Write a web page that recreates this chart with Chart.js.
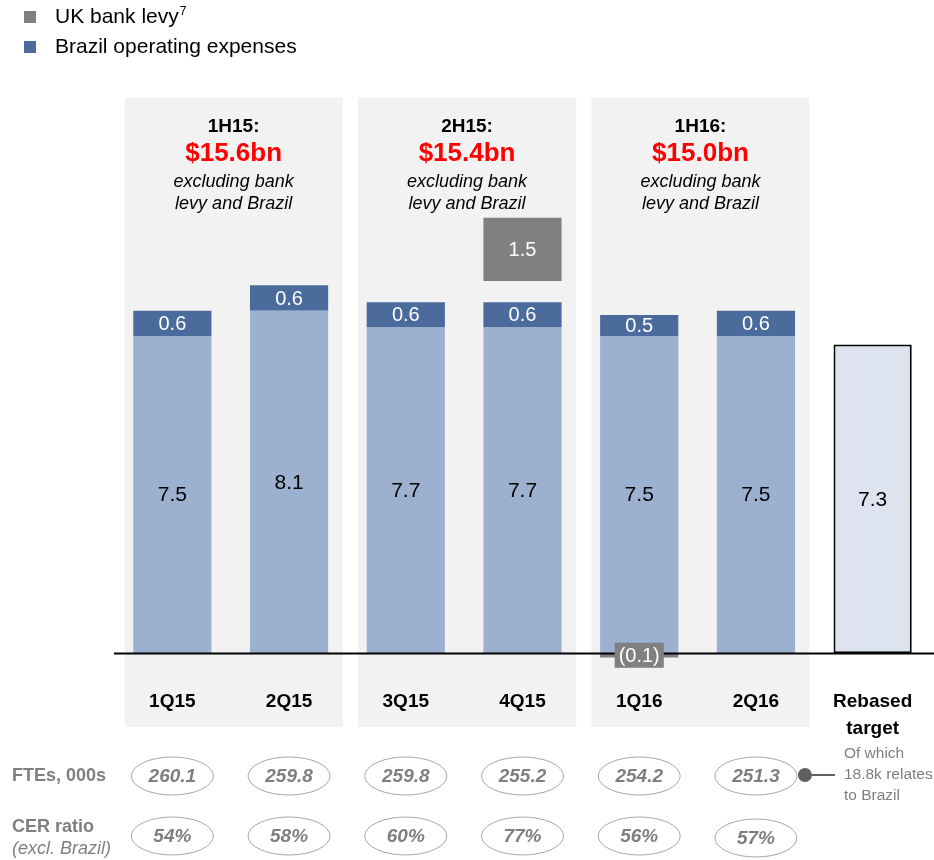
<!DOCTYPE html>
<html>
<head>
<meta charset="utf-8">
<script src="https://cdn.jsdelivr.net/npm/chart.js@4.4.1/dist/chart.umd.min.js"></script>
<style>
  html, body { margin: 0; padding: 0; background: #fff; }
  #wrap { width: 934px; height: 860px; }
</style>
</head>
<body>
<div id="wrap"><canvas id="opex" width="934" height="860"></canvas></div>
<script>
// Data ($bn)
var quarters = ['1Q15', '2Q15', '3Q15', '4Q15', '1Q16', '2Q16', ['Rebased', 'target']];
var opexExBrazil = [7.5, 8.1, 7.7, 7.7, 7.5, 7.5, null];
var brazilOpex = [0.6, 0.6, 0.6, 0.6, 0.5, 0.6, null];
var bankLevy = [null, null, null, 1.5, -0.1, null, null];
var rebasedTarget = [null, null, null, null, null, null, 7.3];
var halfYears = ['1H15:', '2H15:', '1H16:'];
var halfTotals = ['$15.6bn', '$15.4bn', '$15.0bn'];
var ftes = [260.1, 259.8, 259.8, 255.2, 254.2, 251.3];
var cerRatio = [54, 58, 60, 77, 56, 57];

var FONT = 'Liberation Sans, Arial, sans-serif';
var GREY = '#7f7f7f';
var levyGap = 0.5;

// floating bars so the levy block can sit above the stack
var baseBars = opexExBrazil.map(function(v) { return v == null ? null : [0, v]; });
var brazilBars = brazilOpex.map(function(v, i) { return v == null ? null : [opexExBrazil[i], opexExBrazil[i] + v]; });
var levyBars = bankLevy.map(function(v, i) {
    if (v == null) return null;
    if (v < 0) return [0, v];
    var top = opexExBrazil[i] + brazilOpex[i] + levyGap;
    return [top, top + v];
});
var targetBars = rebasedTarget.map(function(v) { return v == null ? null : [0, v]; });

var panelsPlugin = {
    id: 'panels',
    beforeDraw: function(chart) {
        var ctx = chart.ctx, x = chart.scales.x, area = chart.chartArea;
        var w = x.getPixelForValue(1) - x.getPixelForValue(0);
        ctx.save();
        for (var h = 0; h < halfYears.length; h++) {
            var l = x.getPixelForValue(h * 2) - 0.41 * w;
            var r = x.getPixelForValue(h * 2 + 1) + 0.46 * w;
            ctx.fillStyle = '#f2f2f2';
            ctx.fillRect(l, area.top - 6, r - l, area.bottom + 40 - (area.top - 6));
            var cx = (l + r) / 2;
            ctx.textAlign = 'center';
            ctx.textBaseline = 'middle';
            ctx.fillStyle = '#000';
            ctx.font = 'bold 19px ' + FONT;
            ctx.fillText(halfYears[h], cx, area.top + 23);
            ctx.fillStyle = '#ff0000';
            ctx.font = 'bold 26px ' + FONT;
            ctx.fillText(halfTotals[h], cx, area.top + 50);
            ctx.fillStyle = '#000';
            ctx.font = 'italic 18px ' + FONT;
            ctx.fillText('excluding bank', cx, area.top + 78);
            ctx.fillText('levy and Brazil', cx, area.top + 100);
        }
        ctx.restore();
    },
    afterDatasetsDraw: function(chart) {
        var ctx = chart.ctx, y = chart.scales.y, area = chart.chartArea;
        var y0 = Math.round(y.getPixelForValue(0)) + 0.5;
        ctx.save();
        ctx.strokeStyle = '#000';
        ctx.lineWidth = 2;
        ctx.beginPath();
        ctx.moveTo(area.left, y0);
        ctx.lineTo(chart.width, y0);
        ctx.stroke();

        // value labels
        ctx.textAlign = 'center';
        ctx.textBaseline = 'middle';
        chart.data.datasets.forEach(function(ds, di) {
            var meta = chart.getDatasetMeta(di);
            meta.data.forEach(function(bar, i) {
                var v = ds.values[i];
                if (v == null) return;
                var cy = (bar.y + bar.base) / 2;
                if (v < 0) {
                    var txt = '(' + Math.abs(v).toFixed(1) + ')';
                    ctx.font = '20px ' + FONT;
                    var tw = ctx.measureText(txt).width + 8;
                    ctx.fillStyle = ds.backgroundColor;
                    ctx.fillRect(bar.x - tw / 2, cy - 12.5, tw, 25);
                    ctx.fillStyle = '#fff';
                    ctx.fillText(txt, bar.x, cy + 1);
                    return;
                }
                ctx.fillStyle = ds.labelColor;
                ctx.font = ds.labelSize + 'px ' + FONT;
                ctx.fillText(v.toFixed(1), bar.x, cy + 1);
            });
        });
        ctx.restore();
    },
    afterDraw: function(chart) {
        var ctx = chart.ctx, x = chart.scales.x;
        var ds = chart.data.datasets;
        ctx.save();
        // legend
        ctx.textBaseline = 'middle';
        ctx.textAlign = 'left';
        ctx.fillStyle = ds[2].backgroundColor;
        ctx.fillRect(24, 11, 12, 12);
        ctx.fillStyle = ds[1].backgroundColor;
        ctx.fillRect(24, 41, 12, 12);
        ctx.fillStyle = '#000';
        ctx.font = '21px ' + FONT;
        ctx.fillText(ds[2].label, 55, 17);
        var lw = ctx.measureText(ds[2].label).width;
        ctx.font = '12px ' + FONT;
        ctx.fillText('7', 55 + lw + 1, 12);
        ctx.font = '21px ' + FONT;
        ctx.fillText(ds[1].label, 55, 47);

        // row headings
        ctx.fillStyle = GREY;
        ctx.font = 'bold 18px ' + FONT;
        ctx.fillText('FTEs, 000s', 12, 776);
        ctx.fillText('CER ratio', 12, 827);
        ctx.font = 'italic 18px ' + FONT;
        ctx.fillText('(excl. Brazil)', 12, 849);

        // ovals
        ctx.textAlign = 'center';
        ctx.font = 'italic bold 19px ' + FONT;
        ctx.strokeStyle = '#a6a6a6';
        ctx.lineWidth = 1;
        for (var i = 0; i < ftes.length; i++) {
            var cx = x.getPixelForValue(i);
            var rows = [[ftes[i].toFixed(1), 776], [cerRatio[i] + '%', i === 5 ? 838 : 836]];
            rows.forEach(function(r) {
                ctx.beginPath();
                ctx.ellipse(cx, r[1], 41, 19, 0, 0, Math.PI * 2);
                ctx.stroke();
                ctx.fillStyle = GREY;
                ctx.fillText(r[0], cx, r[1] + 1);
            });
        }

        // Brazil FTE note
        var nx = x.getPixelForValue(5) + 49;
        ctx.fillStyle = '#5f5f5f';
        ctx.strokeStyle = '#5f5f5f';
        ctx.lineWidth = 2;
        ctx.beginPath();
        ctx.arc(nx, 775, 7, 0, Math.PI * 2);
        ctx.fill();
        ctx.beginPath();
        ctx.moveTo(nx, 775);
        ctx.lineTo(nx + 30, 775);
        ctx.stroke();
        ctx.textAlign = 'left';
        ctx.fillStyle = GREY;
        ctx.font = '15.5px ' + FONT;
        ctx.fillText('Of which', nx + 39, 754);
        ctx.fillText('18.8k relates', nx + 39, 775);
        ctx.fillText('to Brazil', nx + 39, 796);
        ctx.restore();
    }
};

var ctx = document.getElementById('opex');
var opexChart = new Chart(ctx, {
    type: 'bar',
    data: {
        labels: quarters,
        datasets: [
            { label: 'Operating expenses excl. Brazil', data: baseBars, values: opexExBrazil,
              backgroundColor: '#9cb0cf', labelColor: '#000', labelSize: 21 },
            { label: 'Brazil operating expenses', data: brazilBars, values: brazilOpex,
              backgroundColor: '#4a6b9c', labelColor: '#fff', labelSize: 20 },
            { label: 'UK bank levy', data: levyBars, values: bankLevy,
              backgroundColor: '#808080', labelColor: '#fff', labelSize: 20 },
            { label: 'Rebased target', data: targetBars, values: rebasedTarget,
              backgroundColor: '#dde4ef', borderColor: '#000', borderWidth: 2, borderSkipped: false,
              labelColor: '#000', labelSize: 21 }
        ]
    },
    options: {
        responsive: false,
        animation: false,
        grouped: false,
        barPercentage: 0.67,
        categoryPercentage: 1,
        layout: { padding: { top: 103.5, left: 114, right: 3, bottom: 113 } },
        plugins: { legend: { display: false }, tooltip: { enabled: false } },
        scales: {
            x: {
                grid: { display: false },
                border: { display: false },
                ticks: {
                    color: '#000',
                    padding: -7,
                    maxRotation: 0,
                    autoSkip: false,
                    font: { family: FONT, size: 19, weight: 'bold', lineHeight: 1.42 }
                },
                afterFit: function(scale) { scale.height = 60; }
            },
            y: { display: false, min: -0.8, max: 13 }
        }
    },
    plugins: [panelsPlugin]
});
</script>
</body>
</html>
